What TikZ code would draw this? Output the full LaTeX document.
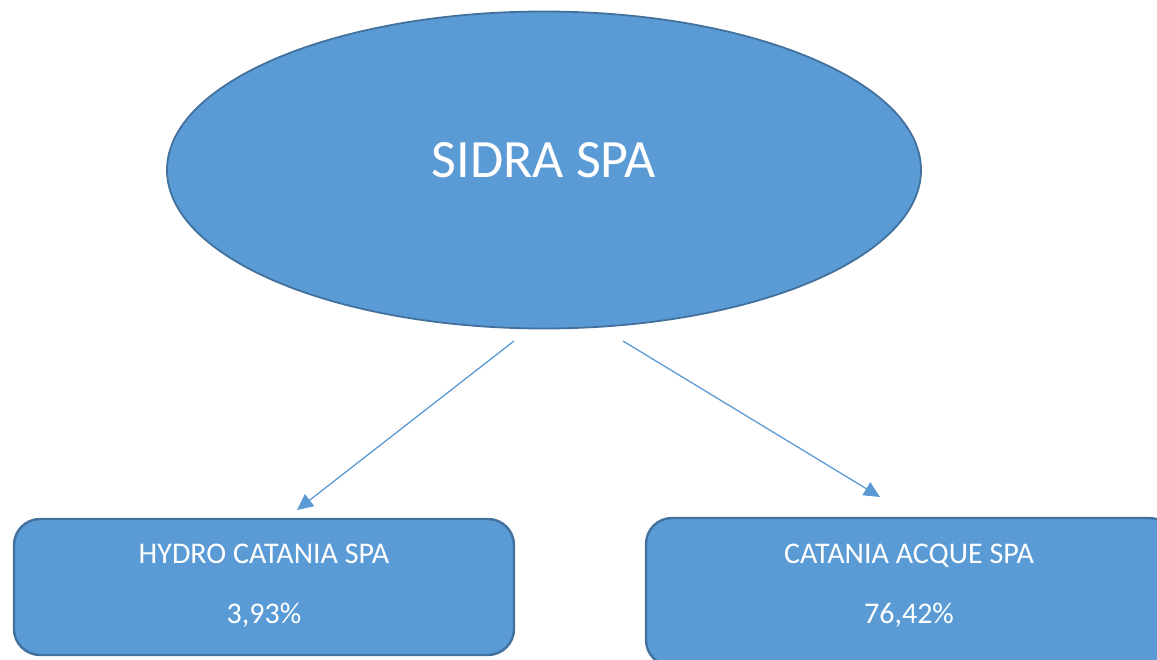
\documentclass[tikz,border=0pt]{standalone}
\usepackage{fontspec}
\setmainfont{Carlito}
\usetikzlibrary{shapes.geometric}
\usetikzlibrary{arrows.meta}
\usepackage{xcolor}
\definecolor{oblue}{RGB}{91,155,213}
\definecolor{oborder}{RGB}{65,113,156}

\tikzset{
	company/.style = {rectangle, rounded corners=26pt, fill=oblue, draw=oborder, line width=2.4pt, minimum width=500pt, minimum height=136pt, inner sep=0pt},
	boxtext/.style = {text=white, align=center, font=\fontsize{30pt}{60pt}\selectfont},
	share/.style = {oblue, line width=1.3pt, -{Triangle[length=16pt,width=15pt]}}
}

\begin{document}
\begin{tikzpicture}[x=1pt, y=-1pt]
	\useasboundingbox (0,0) rectangle (1157,660);
	
	\node[ellipse, fill=oblue, draw=oborder, line width=1.8pt, minimum width=754pt, minimum height=317pt, inner sep=0pt, label={[text=white, font=\fontsize{54pt}{60pt}\selectfont, yshift=10pt]center:SIDRA SPA}] (sidra) at (544,170) {};
	
	\node[company] (hydro) at (264,587) {};
	\node[boxtext] (hydrotxt) at (264,586) {HYDRO CATANIA SPA\\3,93\%};
	
	\node[company, minimum width=529pt, minimum height=148pt] (acque) at (910.5,592) {};
	\node[boxtext] (acquetxt) at (909,586) {CATANIA ACQUE SPA\\76,42\%};
	
	\coordinate (sidraL) at (514,341);
	\coordinate (sidraR) at (623,341);
	\coordinate (hydroT) at (297,510);
	\coordinate (acqueT) at (880,497);
	
	\draw[share] (sidraL) -- (hydroT);
	\draw[share] (sidraR) -- (acqueT);
	
\end{tikzpicture}
\end{document}
